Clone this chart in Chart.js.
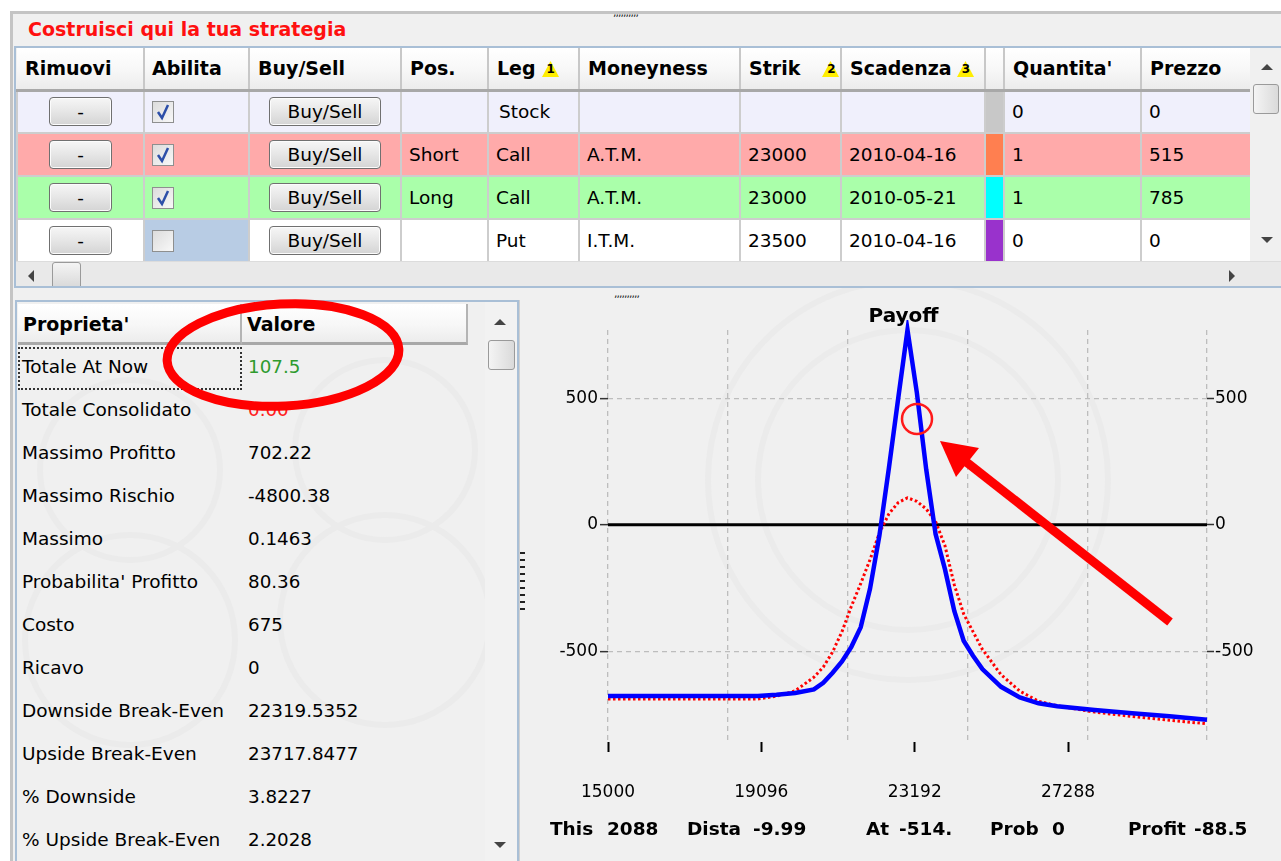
<!DOCTYPE html>
<html><head><meta charset="utf-8">
<script src="https://cdn.jsdelivr.net/npm/chart.js@4.4.0/dist/chart.umd.min.js"></script>
<style>
body{margin:0;width:1281px;height:861px;overflow:hidden;background:#fff;font-family:"DejaVu Sans",sans-serif;position:relative;color:#000}
.a{position:absolute}
#frame{left:10px;top:11px;width:1271px;height:850px;background:#f0f0f0;border-top:3px solid #c4c4c4;border-left:3px solid #c4c4c4;box-sizing:border-box}
#ttl{left:28px;top:18px;font-weight:bold;font-size:19px;color:#ff1010}
#legs{left:14px;top:46px;width:1267px;height:242px;border-top:2px solid #a9bfd6;border-left:2px solid #a9bfd6;border-bottom:2px solid #a9bfd6;box-sizing:border-box;background:#f0f0f0;overflow:hidden}
#legs table{position:absolute;left:0;top:0;border-collapse:collapse;table-layout:fixed;width:1234px}
#legs th{height:42px;padding:0 0 0 8px;text-align:left;font-size:19px;font-weight:bold;background:linear-gradient(#ffffff,#f7f7f7 55%,#ececec);border-right:2px solid #c8c8c8;border-bottom:3px solid #a8a8a8;white-space:nowrap;box-sizing:border-box}
#legs td{height:43px;padding:0 0 0 7px;font-size:18.5px;border:2px solid #cdcdcd;white-space:nowrap;box-sizing:border-box}
.btn{display:block;margin:0 auto;height:29px;border:1px solid #707070;border-radius:4px;background:linear-gradient(#f6f6f6,#e6e6e6 50%,#d4d4d4);font-size:18.5px;text-align:center;line-height:28px;box-sizing:border-box;box-shadow:inset 0 0 0 1px #fcfcfc}
.cb{display:block;width:22px;height:22px;border:1px solid #8e8f8f;box-sizing:border-box;background:linear-gradient(135deg,#dcdcdc,#f8f8f8)}
.badge{display:inline-block;position:relative;width:17px;height:16px;vertical-align:-2px;margin-left:6px}
.badge svg{position:absolute;left:0;top:0}
.badge b{position:absolute;left:5px;top:0;font-size:12px;line-height:16px}
.vs{left:1234px;top:0;width:33px;height:213px;background:#f0f0f0}
.hs{left:0;top:213px;width:1267px;height:27px;background:#e9e9e9;border-top:1px solid #dcdcdc}
.thumb{position:absolute;border:1px solid #9a9a9a;border-radius:3px;background:linear-gradient(90deg,#f4f4f4,#dadada);box-sizing:border-box}
.tri{position:absolute;width:0;height:0}
#props{left:15px;top:300px;width:504px;height:561px;border-left:2px solid #a9bfd6;border-right:2px solid #a9bfd6;border-top:2px solid #a9bfd6;box-sizing:border-box;overflow:hidden}
.ph{position:absolute;top:2px;height:41px;font-weight:bold;font-size:19px;line-height:41px;background:linear-gradient(#ffffff,#f7f7f7 55%,#ececec);border-bottom:3px solid #a8a8a8;border-right:2px solid #b4b4b4;box-sizing:border-box;padding-left:5px}
.pr{position:absolute;left:5px;height:43px;line-height:43px;font-size:18.5px}
.pv{position:absolute;left:231px;height:43px;line-height:43px;font-size:18.3px}
#chartbox{left:526px;top:300px;width:755px;height:561px}
.info{position:absolute;top:818px;font-weight:bold;font-size:18.5px}
</style></head>
<body>
<div class="a" id="frame"></div>
<svg class="a" style="left:0;top:0" width="1281" height="861">
 <g fill="none" stroke="#ebebeb" stroke-width="6">
  <circle cx="130" cy="640" r="105"/><circle cx="385" cy="620" r="105"/>
  <circle cx="130" cy="470" r="90"/><circle cx="385" cy="450" r="90"/>
  <circle cx="908" cy="480" r="200"/><circle cx="908" cy="480" r="150"/>
 </g>
</svg>
<div class="a" id="ttl">Costruisci qui la tua strategia</div>
<div class="a" style="left:613px;top:6px;font-size:11px;letter-spacing:-1px;color:#222">,,,,,,,,,,</div>

<div class="a" id="legs">
<table>
<colgroup><col style="width:127px"><col style="width:105px"><col style="width:152px"><col style="width:87px"><col style="width:91px"><col style="width:161px"><col style="width:101px"><col style="width:144px"><col style="width:19px"><col style="width:137px"><col style="width:110px"></colgroup>
<tr><th>Rimuovi</th><th style="padding-left:7px">Abilita</th><th>Buy/Sell</th><th>Pos.</th><th>Leg<span class="badge"><svg width="17" height="16"><polygon points="8.5,0 17,16 0,16" fill="#ffee00"/></svg><b>1</b></span></th><th>Moneyness</th><th>Strik<span class="badge" style="margin-left:22px"><svg width="17" height="16"><polygon points="8.5,0 17,16 0,16" fill="#ffee00"/></svg><b>2</b></span></th><th>Scadenza<span class="badge" style="margin-left:5px"><svg width="17" height="16"><polygon points="8.5,0 17,16 0,16" fill="#ffee00"/></svg><b>3</b></span></th><th style="padding:0"></th><th>Quantita'</th><th>Prezzo</th></tr>
<tr style="background:#f0f0fc"><td style="padding:0"><span class="btn" style="width:63px">-</span></td><td><span class="cb" id="c1"></span></td><td style="padding:0"><span class="btn" style="width:112px">Buy/Sell</span></td><td></td><td style="padding-left:10px">Stock</td><td></td><td></td><td></td><td style="background:#c8c8c8;padding:0"></td><td>0</td><td>0</td></tr>
<tr style="background:#ffaaaa"><td style="padding:0"><span class="btn" style="width:63px">-</span></td><td><span class="cb" id="c2"></span></td><td style="padding:0"><span class="btn" style="width:112px">Buy/Sell</span></td><td>Short</td><td>Call</td><td>A.T.M.</td><td>23000</td><td>2010-04-16</td><td style="background:#ff7f50;padding:0"></td><td>1</td><td>515</td></tr>
<tr style="background:#aaffaa"><td style="padding:0"><span class="btn" style="width:63px">-</span></td><td><span class="cb" id="c3"></span></td><td style="padding:0"><span class="btn" style="width:112px">Buy/Sell</span></td><td>Long</td><td>Call</td><td>A.T.M.</td><td>23000</td><td>2010-05-21</td><td style="background:#00ffff;padding:0"></td><td>1</td><td>785</td></tr>
<tr style="background:#ffffff"><td style="padding:0"><span class="btn" style="width:63px">-</span></td><td style="background:#b8cce4"><span class="cb"></span></td><td style="padding:0"><span class="btn" style="width:112px">Buy/Sell</span></td><td></td><td>Put</td><td>I.T.M.</td><td>23500</td><td>2010-04-16</td><td style="background:#9932cc;padding:0"></td><td>0</td><td>0</td></tr>
</table>
<div class="a vs">
 <div class="tri" style="left:11px;top:16px;border-left:6px solid transparent;border-right:6px solid transparent;border-bottom:6px solid #444"></div>
 <div class="thumb" style="left:3px;top:36px;width:26px;height:30px"></div>
 <div class="tri" style="left:11px;top:189px;border-left:6px solid transparent;border-right:6px solid transparent;border-top:6px solid #444"></div>
</div>
<div class="a hs">
 <div class="tri" style="left:12px;top:8px;border-top:6px solid transparent;border-bottom:6px solid transparent;border-right:6px solid #444"></div>
 <div class="thumb" style="left:36px;top:0px;width:29px;height:27px;background:linear-gradient(#f4f4f4,#d8d8d8)"></div>
 <div class="tri" style="left:1213px;top:8px;border-top:6px solid transparent;border-bottom:6px solid transparent;border-left:6px solid #444"></div>
</div>
</div>
<div class="a" style="left:614px;top:287px;font-size:11px;letter-spacing:-1px;color:#222">,,,,,,,,,,</div>

<div class="a" id="props">
 <div class="ph" style="left:1px;width:224px">Proprieta'</div>
 <div class="ph" style="left:225px;width:226px">Valore</div>
 <div class="a" style="left:1px;top:45px;width:224px;height:43px;border:2px dotted #333;box-sizing:border-box"></div>
 <div class="a" style="left:468px;top:0;width:32px;height:561px;background:#f2f2f2">
  <div class="tri" style="left:9px;top:17px;border-left:6px solid transparent;border-right:6px solid transparent;border-bottom:6px solid #444"></div>
  <div class="thumb" style="left:3px;top:38px;width:27px;height:30px"></div>
  <div class="tri" style="left:9px;top:540px;border-left:6px solid transparent;border-right:6px solid transparent;border-top:6px solid #444"></div>
 </div>
 <div id="plist"></div>
</div>
<div class="a" style="left:519px;top:300px;width:7px;height:561px;background:#f0f0f0;border-left:1px solid #d0d0d0"></div>
<div class="a" style="left:520px;top:552px;width:5px;height:62px;background:repeating-linear-gradient(#222 0 2px,transparent 2px 7px)"></div>

<div class="a" id="chartbox"><canvas id="payoff" width="755" height="561"></canvas></div>
<div class="info" style="left:550px">This</div><div class="info" style="left:607px">2088</div>
<div class="info" style="left:687px">Dista</div><div class="info" style="left:753px">-9.99</div>
<div class="info" style="left:866px">At</div><div class="info" style="left:899px">-514.</div>
<div class="info" style="left:990px">Prob</div><div class="info" style="left:1052px">0</div>
<div class="info" style="left:1128px">Profit</div><div class="info" style="left:1194px">-88.5</div>

<svg class="a" style="left:0;top:0;pointer-events:none" width="1281" height="861">
 <ellipse cx="283" cy="355" rx="116" ry="51" transform="rotate(-3 283 355)" fill="none" stroke="#ff0000" stroke-width="9"/>
 <circle cx="917" cy="419" r="15" fill="none" stroke="#ff1a1a" stroke-width="2.5"/>
 <line x1="1170" y1="622" x2="965" y2="461" stroke="#ff0000" stroke-width="9"/>
 <polygon points="940,441 979,448 956,477" fill="#ff0000"/>
</svg>

<script>
// leg table check marks
['c1','c2','c3'].forEach(id=>{
  document.getElementById(id).innerHTML='<svg width="20" height="20"><path d="M5 10 L9 16 L15 3" fill="none" stroke="#2d4fa8" stroke-width="2.5"/></svg>';
});

// property panel
const propNames=["Totale At Now","Totale Consolidato","Massimo Profitto","Massimo Rischio","Massimo","Probabilita' Profitto","Costo","Ricavo","Downside Break-Even","Upside Break-Even","% Downside","% Upside Break-Even"];
const propValues=["107.5","0.00","702.22","-4800.38","0.1463","80.36","675","0","22319.5352","23717.8477","3.8227","2.2028"];
const propColors={0:'#2e9b2e',1:'#ff2020'};
let h='';
propNames.forEach((n,i)=>{
  const top=43+i*43;
  h+=`<div class="pr" style="top:${top}px">${n}</div><div class="pv" style="top:${top}px;color:${propColors[i]||'#000'}">${propValues[i]}</div>`;
});
document.getElementById('plist').innerHTML=h;

// payoff data (underlying price vs P/L)
const strikes=[15000,16000,17000,18000,19000,19500,20000,20500,20750,21000,21250,21500,21750,22000,22250,22500,22750,23000,23250,23500,23750,24000,24250,24500,24750,25000,25500,26000,26500,27000,28000,29000,30000,31000];
const payoffExpiry=[-676,-676,-676,-676,-676,-671,-664,-650,-624,-584,-540,-482,-405,-252,-42,221,498,770,522,219,-36,-175,-340,-458,-517,-570,-640,-682,-705,-717,-732,-744,-756,-770];
const payoffNow=[-688,-688,-688,-688,-688,-677,-656,-602,-562,-502,-422,-322,-232,-137,-32,43,88,107,93,63,13,-82,-237,-352,-422,-492,-592,-657,-697,-715,-740,-757,-772,-786];
const xTickLabels=[15000,19096,23192,27288];
const xGridLines=[15000,18200,21400,24600,27800,31000];
const yTickLabels=[-500,0,500];
const xMin=15000,xMax=31000,yMin=-858,yMax=770;

Chart.defaults.font.family='DejaVu Sans';
Chart.defaults.color='#000';
const pts=arr=>strikes.map((s,i)=>({x:s,y:arr[i]}));
const fixTicks=list=>s=>{s.ticks=list.map(v=>({value:v}));};

new Chart(document.getElementById('payoff'),{
  type:'line',
  data:{datasets:[
    {label:'Scadenza',data:pts(payoffExpiry),borderColor:'#0000ff',borderWidth:4.5,pointRadius:0,tension:0,clip:10},
    {label:'At Now',data:pts(payoffNow),borderColor:'#ff0000',borderWidth:3,borderDash:[2.5,2.5],pointRadius:0,tension:0,clip:10},
    {label:'zero',data:[{x:xMin,y:0},{x:xMax,y:0}],borderColor:'#000',borderWidth:3,pointRadius:0}
  ]},
  options:{
    responsive:false,animation:false,events:[],
    layout:{padding:0},
    plugins:{
      legend:{display:false},tooltip:{enabled:false},
      title:{display:true,text:'Payoff',color:'#000',font:{size:20,weight:'bold',lineHeight:1},padding:{top:7,bottom:3}}
    },
    scales:{
      x:{type:'linear',position:'bottom',min:xMin,max:xMax,afterBuildTicks:fixTicks(xTickLabels),
        afterFit:s=>{s.height=119;},
        ticks:{font:{size:17},padding:30,maxRotation:0,autoSkip:false,callback:v=>String(v)},
        grid:{drawOnChartArea:false,drawTicks:true,tickLength:10,tickColor:'#000',tickWidth:2,tickBorderDash:[]},
        border:{display:false}},
      xg:{type:'linear',position:'top',min:xMin,max:xMax,afterBuildTicks:fixTicks(xGridLines),
        afterFit:s=>{s.height=0;},
        ticks:{display:false},
        grid:{color:'#bdbdbd',lineWidth:1.3,drawTicks:false},
        border:{display:false,dash:[5,4]}},
      y:{type:'linear',position:'left',min:yMin,max:yMax,afterBuildTicks:fixTicks(yTickLabels),
        afterFit:s=>{s.width=82;},
        ticks:{font:{size:17},padding:2,callback:v=>String(v)},
        grid:{color:'#bdbdbd',lineWidth:1.3,drawTicks:true,tickLength:8,tickColor:'#333',tickWidth:1.5,tickBorderDash:[]},
        border:{display:false,dash:[5,4]}},
      y2:{type:'linear',position:'right',min:yMin,max:yMax,afterBuildTicks:fixTicks(yTickLabels),
        afterFit:s=>{s.width=74;},
        ticks:{font:{size:17},padding:1,callback:v=>String(v)},
        grid:{drawOnChartArea:false,drawTicks:true,tickLength:7,tickColor:'#333',tickWidth:1.5,tickBorderDash:[]},
        border:{display:false}}
    }
  }
});
</script>
</body></html>
